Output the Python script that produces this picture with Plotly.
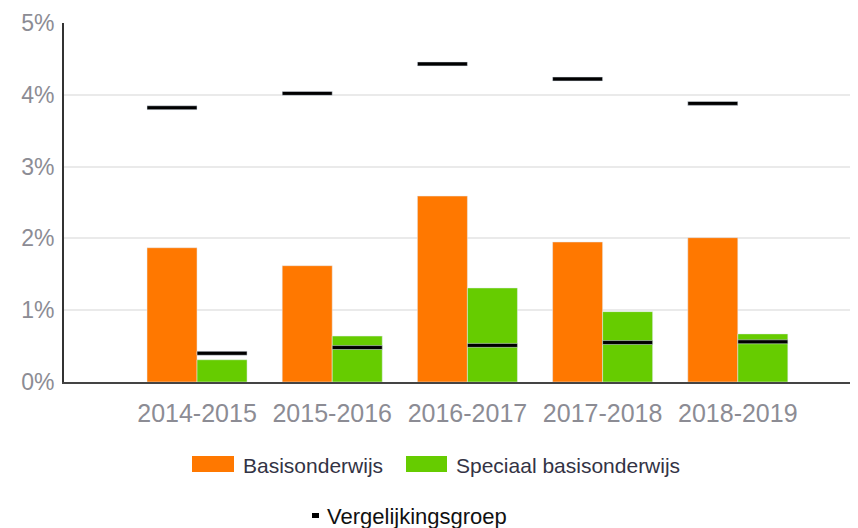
import plotly.graph_objects as go

# schooljaren
jaren = ["2014-2015", "2015-2016", "2016-2017", "2017-2018", "2018-2019"]

# percentages per schoolsoort
basis = [1.87, 1.62, 2.59, 1.95, 2.01]
speciaal = [0.31, 0.64, 1.31, 0.98, 0.67]

# vergelijkingsgroep (zwarte streepjes)
verg_basis = [3.82, 4.02, 4.43, 4.22, 3.88]
verg_speciaal = [0.40, 0.48, 0.51, 0.55, 0.56]

ORANJE = "#FF7800"
GROEN = "#66CC00"
streep = 0.055  # dikte van het streepje in %

fig = go.Figure()
fig.add_trace(go.Bar(x=jaren, y=basis, name="Basisonderwijs", marker_color=ORANJE,
                     offsetgroup="basis", showlegend=False))
fig.add_trace(go.Bar(x=jaren, y=speciaal, name="Speciaal basisonderwijs", marker_color=GROEN,
                     offsetgroup="speciaal", showlegend=False))
# streepjes als dunne balkjes in dezelfde offsetgroup
fig.add_trace(go.Bar(x=jaren, y=[streep] * len(jaren), base=[v - streep / 2 for v in verg_basis],
                     marker_color="black", offsetgroup="basis", showlegend=False))
fig.add_trace(go.Bar(x=jaren, y=[streep] * len(jaren), base=[v - streep / 2 for v in verg_speciaal],
                     marker_color="black", offsetgroup="speciaal", showlegend=False))

# pixel -> paper helpers (plotgebied 64..858 x 23..382 in het venster)
def px(x):
    return (x - 64) / 794

def py(y):
    return (382 - y) / 359

# zelfgemaakte legenda
fig.add_shape(type="rect", xref="paper", yref="paper", x0=px(192), x1=px(234), y0=py(456), y1=py(472),
              fillcolor=ORANJE, line_width=0)
fig.add_shape(type="rect", xref="paper", yref="paper", x0=px(406), x1=px(447), y0=py(456), y1=py(472),
              fillcolor=GROEN, line_width=0)
fig.add_shape(type="rect", xref="paper", yref="paper", x0=px(312), x1=px(319), y0=py(513), y1=py(518),
              fillcolor="black", line_width=0)
fig.add_annotation(text="Basisonderwijs", xref="paper", yref="paper", x=px(241), y=py(465),
                   xanchor="left", yanchor="middle", showarrow=False,
                   font=dict(size=21, color="#333344"))
fig.add_annotation(text="Speciaal basisonderwijs", xref="paper", yref="paper", x=px(454), y=py(465),
                   xanchor="left", yanchor="middle", showarrow=False,
                   font=dict(size=21, color="#333344"))
fig.add_annotation(text="Vergelijkingsgroep", xref="paper", yref="paper", x=px(325), y=py(516),
                   xanchor="left", yanchor="middle", showarrow=False,
                   font=dict(size=22, color="#111111"))

# de pagina heeft 8px body-marge, dus figuur 850x520 met kleinere marges
fig.update_layout(
    width=850, height=520,
    margin=dict(l=56, r=0, t=15, b=146),
    paper_bgcolor="white", plot_bgcolor="white",
    barmode="group", bargap=0.26, bargroupgap=0,
    font=dict(family="Liberation Sans, Arial, sans-serif"),
    showlegend=False,
)
fig.update_xaxes(range=[-0.984, 4.889], showline=True, linecolor="#444444", linewidth=2,
                 showgrid=False, tickfont=dict(size=25, color="#8c8c94"), ticklabelstandoff=8)
fig.update_yaxes(range=[0, 5], tickvals=[0, 1, 2, 3, 4, 5], ticktext=["0%", "1%", "2%", "3%", "4%", "5%"],
                 showline=True, linecolor="#333333", linewidth=2, gridcolor="#eaeaea", gridwidth=2,
                 zeroline=False, tickfont=dict(size=23, color="#8c8c94"), ticklabelstandoff=3)

fig.write_html("out.html")
